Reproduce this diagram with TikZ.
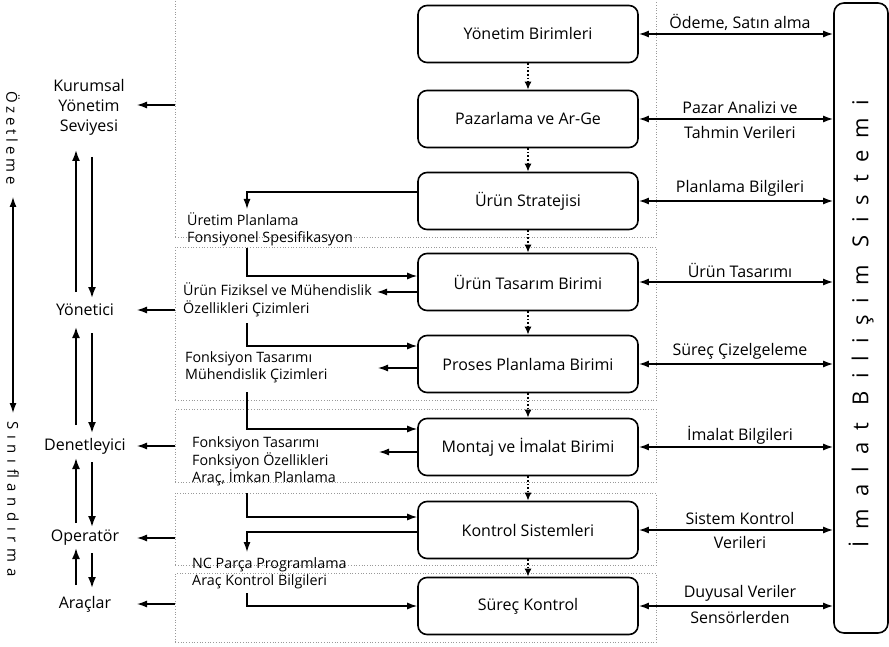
\documentclass[tikz,border=0pt]{standalone}
\usepackage{fontspec}
\setmainfont{Open Sans}
\usetikzlibrary{arrows.meta,calc}
\begin{document}
\begin{tikzpicture}[x=1pt,y=-1pt,
  unitbox/.style={draw,line width=1.6pt,rounded corners=9pt,minimum width=220pt,minimum height=57pt,inner sep=0pt,font=\fontsize{16}{19}\selectfont},
  grp/.style={draw=black!40,dotted,line width=0.7pt,inner sep=0pt,anchor=north west,minimum width=481pt},
  lvl/.style={font=\fontsize{16}{20}\selectfont,align=center,inner sep=0pt},
  info/.style={font=\fontsize{14.3}{17.5}\selectfont,align=left,inner sep=0pt,anchor=west},
  rlab/.style={font=\fontsize{16}{19}\selectfont,inner sep=0pt},
  flow/.style={line width=1.3pt,-{Latex[length=10pt,width=7pt]}},
  link/.style={line width=1.6pt,{Latex[length=10pt,width=7pt]}-{Latex[length=10pt,width=7pt]}},
  linkthin/.style={line width=1.3pt,{Latex[length=10pt,width=7pt]}-{Latex[length=10pt,width=7pt]}},
  seq/.style={line width=1.6pt,dotted,-{Latex[length=8pt,width=7pt]}},
  updown/.style={line width=1.8pt,-{Latex[length=11pt,width=8pt]}},
  vtext/.style={font=\fontsize{15}{15}\selectfont\addfontfeature{LetterSpace=25},inner sep=0pt,rotate=-90},
]
\useasboundingbox (0,0) rectangle (889,647);

% groups
\node[grp,minimum height=242pt] (g1) at (175,-5) {};
\node[grp,minimum height=153pt] (g2) at (175,247) {};
\node[grp,minimum height=73pt] (g3) at (175,409) {};
\node[grp,minimum height=72pt] (g4) at (175,493) {};
\node[grp,minimum height=69pt] (g5) at (175,573) {};

% unit boxes
\node[unitbox] (b1) at (528,34) {Yönetim Birimleri};
\node[unitbox] (b2) at (528,119) {Pazarlama ve Ar-Ge};
\node[unitbox] (b3) at (528,201) {Ürün Stratejisi};
\node[unitbox] (b4) at (528,282) {Ürün Tasarım Birimi};
\node[unitbox] (b5) at (528,364) {Proses Planlama Birimi};
\node[unitbox] (b6) at (528,447) {Montaj ve İmalat Birimi};
\node[unitbox] (b7) at (528,530) {Kontrol Sistemleri};
\node[unitbox] (b8) at (528,606) {Süreç Kontrol};

\foreach \a/\b in {b1/b2,b2/b3,b3/b4,b4/b5,b5/b6,b6/b7,b7/b8}
  \draw[seq] (\a) -- (\b);

% information system
\node[draw,line width=1.6pt,rounded corners=10pt,minimum width=54pt,minimum height=630pt,inner sep=0pt] (sys) at (861,318) {};
\node[rotate=90,inner sep=0pt,font=\fontsize{22}{22}\selectfont\addfontfeature{LetterSpace=55}] (systxt) at (861,324) {İmalat Bilişim Sistemi};

\draw[link] (b1.east) -- node[rlab,xshift=4pt,yshift=11.5pt]{Ödeme, Satın alma} (b1.east -| sys.west);
\draw[link] (b2.east) -- node[rlab,xshift=4pt,yshift=11pt]{Pazar Analizi ve} node[rlab,xshift=4pt,yshift=-14pt]{Tahmin Verileri} (b2.east -| sys.west);
\draw[link] (b3.east) -- node[rlab,xshift=4pt,yshift=12.5pt]{Planlama Bilgileri} (b3.east -| sys.west);
\draw[link] (b4.east) -- node[rlab,xshift=4pt,yshift=11.5pt]{Ürün Tasarımı} (b4.east -| sys.west);
\draw[link] (b5.east) -- node[rlab,xshift=4pt,yshift=12.5pt]{Süreç Çizelgeleme} (b5.east -| sys.west);
\draw[link] (b6.east) -- node[rlab,xshift=4pt,yshift=11.5pt]{İmalat Bilgileri} (b6.east -| sys.west);
\draw[link] (b7.east) -- node[rlab,xshift=4pt,yshift=11.5pt]{Sistem Kontrol} node[rlab,xshift=4pt,yshift=-12.5pt]{Verileri} (b7.east -| sys.west);
\draw[link] (b8.east) -- node[rlab,xshift=4pt,yshift=12.5pt]{Duyusal Veriler} node[rlab,xshift=4pt,yshift=-11.5pt]{Sensörlerden} (b8.east -| sys.west);

% information labels
\node[info] (l1) at (187,229.5) {Üretim Planlama\\Fonsiyonel Spesifikasyon};
\node[info] (l2) at (183,300) {Ürün Fiziksel ve Mühendislik\\Özellikleri Çizimleri};
\node[info] (l3) at (185,367.5) {Fonksiyon Tasarımı\\Mühendislik Çizimleri};
\node[info] (l4) at (192,461.5) {Fonksiyon Tasarımı\\Fonksiyon Özellikleri\\Araç, İmkan Planlama};
\node[info] (l5) at (192,573.5) {NC Parça Programlama\\Araç Kontrol Bilgileri};

\draw[flow] ([yshift=9pt]b3.west) -| (247,209);
\draw[flow] (247,248) |- ([yshift=6pt]b4.west);
\draw[flow] ([yshift=-10pt]b4.west) -- (377,292);
\draw[flow] (247,323) |- ([yshift=18pt]b5.west);
\draw[flow] ([yshift=-4pt]b5.west) -- (378,368);
\draw[flow] (247,392) |- ([yshift=18pt]b6.west);
\draw[flow] ([yshift=-5pt]b6.west) -- (379,452);
\draw[flow] (247,493) |- ([yshift=13pt]b7.west);
\draw[flow] ([yshift=-2pt]b7.west) -| (247,552);
\draw[flow] (247,593) |- ([yshift=0pt]b8.west);

% levels
\node[lvl] (kys) at (89,107) {Kurumsal\\Yönetim\\Seviyesi};
\node[lvl] (yon) at (85,310) {Yönetici};
\node[lvl] (den) at (85,446) {Denetleyici};
\node[lvl] (ope) at (85,538) {Operatör};
\node[lvl] (ara) at (85,604) {Araçlar};

\draw[flow] (g1.west |- 0,105) -- ++(-38,0);
\draw[flow] (g2.west |- yon) -- ++(-38,0);
\draw[flow] (g3.west |- den) -- ++(-38,0);
\draw[flow] (g4.west |- ope) -- ++(-38,0);
\draw[flow] (g5.west |- ara) -- ++(-38,0);

\draw[updown] (76,292) -- (76,150);
\draw[updown] (92,157) -- (92,298);
\draw[updown] (76,425) -- (76,327);
\draw[updown] (92,333) -- (92,433);
\draw[updown] (76,523) -- (76,458);
\draw[updown] (92,462) -- (92,527);
\draw[updown] (76,585) -- (76,548);
\draw[updown] (92,553) -- (92,588);

% left axis
\node[vtext] (oz) at (13,138) {Özetleme};
\node[vtext,font=\fontsize{15}{15}\selectfont\addfontfeature{LetterSpace=38}] (sin) at (13,499) {Sınıflandırma};
\draw[linkthin] (13,197) -- (13,413);
\end{tikzpicture}
\end{document}
